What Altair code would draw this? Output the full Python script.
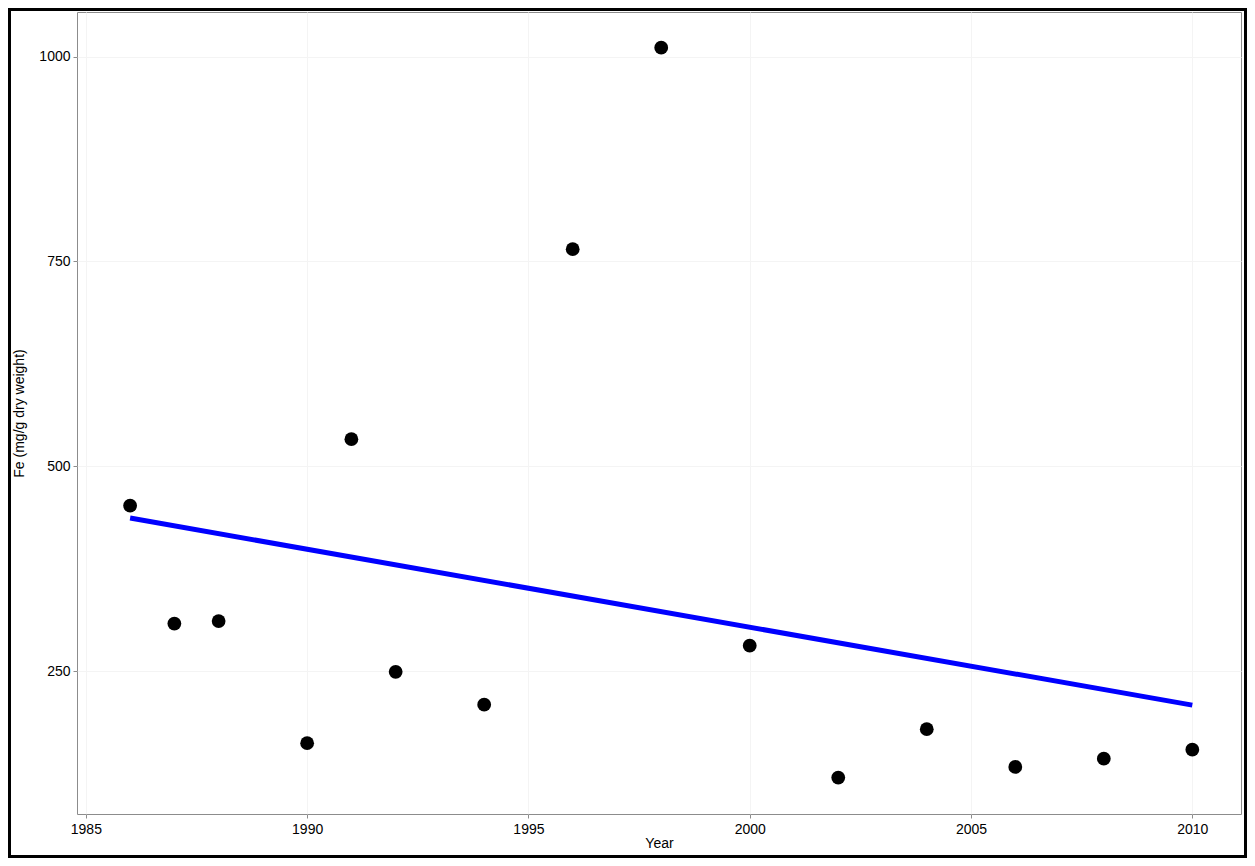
import altair as alt
import pandas as pd

years = [1986, 1987, 1988, 1990, 1991, 1992, 1994, 1996, 1998, 2000, 2002, 2004, 2006, 2008, 2010]
fe = [452, 308, 311, 162, 533, 249, 209, 765, 1011, 281, 120, 179, 133, 143, 154]
x_ticks = [1985, 1990, 1995, 2000, 2005, 2010]
y_ticks = [250, 500, 750, 1000]

df = pd.DataFrame({"Year": years, "Fe": fe})

W, H = 1164, 802
FONT = "Liberation Sans"

xs = alt.Scale(domain=[1984.8, 2011.1], nice=False, zero=False)
ys = alt.Scale(domain=[75.5, 1054.5], nice=False, zero=False)

xenc = alt.X("Year:Q", scale=xs,
             axis=alt.Axis(values=x_ticks, format="d", title="Year", grid=True))
yenc = alt.Y("Fe:Q", scale=ys,
             axis=alt.Axis(values=y_ticks, format="d", title="Fe (mg/g dry weight)", grid=True))

base = alt.Chart(df)

points = base.mark_circle(size=190, color="black", opacity=1).encode(x=xenc, y=yenc)

line = base.transform_regression("Year", "Fe").mark_line(
    color="#0000FF", strokeWidth=5).encode(x="Year:Q", y="Fe:Q")

frame = alt.Chart(pd.DataFrame({"k": [0]})).mark_rect(
    fill=None, stroke="black", strokeWidth=3, clip=False
).encode(
    x=alt.value(-67.5), x2=alt.value(W + 4.5),
    y=alt.value(-2.5), y2=alt.value(H + 42.5)
)

chart = alt.layer(line, points, frame).properties(
    width=W, height=H,
    background="white",
    autosize=alt.AutoSizeParams(type="none"),
    padding={"left": 69, "top": 4, "right": 6, "bottom": 44},
).configure_view(
    stroke="#8c8c8c", strokeWidth=1
).configure_axis(
    domain=False,
    gridColor="#f4f4f4",
    gridWidth=1,
    tickColor="#8c8c8c",
    tickSize=4,
    labelFont=FONT,
    labelFontSize=14,
    labelColor="black",
    labelPadding=3,
    titleFont=FONT,
    titleFontSize=14,
    titleFontWeight="normal",
    titleColor="black",
).configure_axisX(
    titlePadding=0,
    labelPadding=4,
).configure_axisY(
    titlePadding=12,
)

chart.save("out.html", embed_options={"renderer": "svg", "actions": False})
